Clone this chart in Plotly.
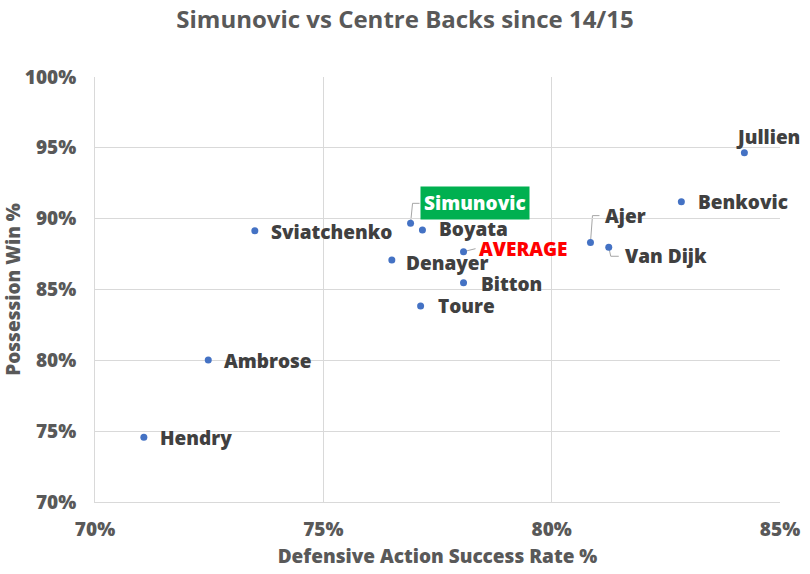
import plotly.graph_objects as go

players = ["Jullien", "Benkovic", "Ajer", "Van Dijk", "Simunovic", "Boyata", "AVERAGE",
           "Denayer", "Bitton", "Toure", "Sviatchenko", "Ambrose", "Hendry"]
def_success = [84.22, 82.84, 80.85, 81.25, 76.91, 77.17, 78.07,
               76.50, 78.07, 77.13, 73.50, 72.48, 71.07]
poss_win = [94.66, 91.20, 88.31, 87.98, 89.67, 89.20, 87.67,
            87.09, 85.48, 83.84, 89.15, 80.03, 74.57]

# label placement (pixel offsets from point) and optional elbow leader path
label_style = {
    "Jullien": dict(dx=-10, dy=16),
    "Benkovic": dict(dx=15, dy=0),
    "Ajer": dict(dx=13, dy=27, path="M 0,0 L 2,27 L 9,27"),
    "Van Dijk": dict(dx=14, dy=-9, path="M 0,0 L 2,-9 L 10,-9"),
    "Simunovic": dict(dx=9, dy=20, path="M 0,0 L 2,20 L 9,20"),
    "Boyata": dict(dx=15, dy=1),
    "AVERAGE": dict(dx=13, dy=3, path="M 0,0 L 12,3"),
    "Denayer": dict(dx=12, dy=-3),
    "Bitton": dict(dx=15, dy=-1),
    "Toure": dict(dx=15, dy=0),
    "Sviatchenko": dict(dx=14, dy=-1),
    "Ambrose": dict(dx=14, dy=-1),
    "Hendry": dict(dx=14, dy=-1),
}

FONT = "Open Sans"
AX = "#595959"
LBL = "#404040"
GRID = "#d9d9d9"
W = 800

fig = go.Figure()
fig.add_trace(go.Scatter(
    x=def_success, y=poss_win, mode="markers",
    marker=dict(size=7, color="#4472C4"),
    hoverinfo="text", text=players, showlegend=False,
))

annotations = []
shapes = []
for name, xv, yv in zip(players, def_success, poss_win):
    st = label_style[name]
    color = LBL
    if name == "Simunovic":
        color = "white"
    if name == "AVERAGE":
        color = "#FF0000"
    ann = dict(x=xv, y=yv, xref="x", yref="y", text=name, showarrow=False,
               xanchor="left", yanchor="middle", xshift=st["dx"], yshift=st["dy"],
               font=dict(family=FONT, size=19, color=color, weight=W))
    if name == "Simunovic":
        ann["bgcolor"] = "#00B050"
        ann["borderpad"] = 3
    annotations.append(ann)
    if "path" in st:
        shapes.append(dict(type="path", xref="x", yref="y", xsizemode="pixel",
                           ysizemode="pixel", xanchor=xv, yanchor=yv, path=st["path"],
                           line=dict(color="#a6a6a6", width=1), layer="below"))

fig.update_layout(
    width=810, height=574,
    margin=dict(l=95, r=30, t=77, b=72, autoexpand=False),
    paper_bgcolor="white", plot_bgcolor="white",
    title=dict(text="Simunovic vs Centre Backs since 14/15", x=0.5, xanchor="center",
               y=0.965, yanchor="middle",
               font=dict(family=FONT, size=24, color=AX, weight="bold")),
    annotations=annotations,
    shapes=shapes,
    xaxis=dict(range=[70, 85], dtick=5, tick0=70, ticksuffix="%", automargin=False,
               showgrid=True, gridcolor=GRID, gridwidth=1,
               showline=True, linecolor=GRID, linewidth=1, zeroline=False,
               ticks="", ticklabelstandoff=10,
               tickfont=dict(family=FONT, size=19, color=AX, weight=W),
               title=dict(text="Defensive Action Success Rate %", standoff=8,
                          font=dict(family=FONT, size=19, color=AX, weight=W))),
    yaxis=dict(range=[70, 100], dtick=5, tick0=70, ticksuffix="%", automargin=False,
               showgrid=True, gridcolor=GRID, gridwidth=1,
               showline=True, linecolor=GRID, linewidth=1, zeroline=False,
               ticks="", ticklabelstandoff=14,
               tickfont=dict(family=FONT, size=19, color=AX, weight=W),
               title=dict(text="Possession Win %", standoff=8,
                          font=dict(family=FONT, size=19, color=AX, weight=W))),
)

fig.write_html("out.html", config={"displayModeBar": False},
               post_script="document.body.style.margin='0';")
